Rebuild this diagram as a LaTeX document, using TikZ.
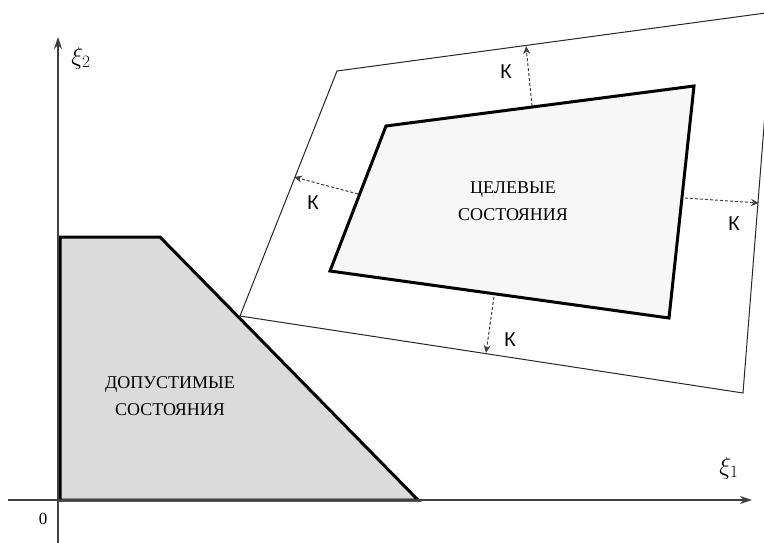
\documentclass[tikz,border=0pt]{standalone}
\usepackage{fontspec}
\setmainfont{Liberation Serif}
\newfontfamily\kfont{Liberation Sans}
\usetikzlibrary{arrows.meta}
\begin{document}
\begin{tikzpicture}[x=1pt,y=-1pt,
  axis/.style={draw=black!75,line width=1.3pt,-{Stealth[length=12pt,width=8pt]}},
  region/.style={draw=black,line width=3pt,line join=miter},
  outer/.style={draw=black!85,line width=1pt},
  margin/.style={draw=black!75,line width=1pt,dash pattern=on 3pt off 2pt,-{Stealth[length=8pt,width=7pt]}},
  lbl/.style={font=\fontsize{18}{20}\selectfont,align=center,inner sep=0pt},
  klbl/.style={font=\kfont\fontsize{20}{20}\selectfont,inner sep=0pt},
  axlbl/.style={font=\fontsize{27}{27}\selectfont,inner sep=0pt}]
\useasboundingbox (0,0) rectangle (764,543);
\begin{scope}
\clip (0,0) rectangle (764,543);
% outer region boundary
\coordinate (o1) at (240,316);
\coordinate (o2) at (337,71);
\coordinate (o3) at (773,12);
\coordinate (o4) at (743,393);
\draw[outer] (o1) -- (o2) -- (o3) -- (o4) -- cycle;
\end{scope}
% admissible region
\coordinate (a1) at (60,500);
\coordinate (a2) at (60,237);
\coordinate (a3) at (160,237);
\coordinate (a4) at (418,500);
\fill[black!14] (a1) -- (a2) -- (a3) -- (a4) -- cycle;
\draw[region] (a1) -- (a2) -- (a3) -- (a4) -- cycle;
% target region
\coordinate (t1) at (386,126);
\coordinate (t2) at (694,86);
\coordinate (t3) at (669,318);
\coordinate (t4) at (330,271);
\filldraw[region,fill=black!3] (t1) -- (t2) -- (t3) -- (t4) -- cycle;
% axes
\coordinate (xs) at (8,500);
\coordinate (xe) at (752,500);
\coordinate (ys) at (58,543);
\coordinate (ye) at (58,37);
\draw[axis] (xs) -- (xe);
\draw[axis] (ys) -- (ye);
\node[axlbl] (xi1) at (729,468) {$\xi_1$};
\node[axlbl] (xi2) at (81,58) {$\xi_2$};
\node[font=\fontsize{17}{17}\selectfont,inner sep=0pt] (zero) at (43,519) {0};
% margins
\coordinate (m1s) at (532,106); \coordinate (m1e) at (526,46);
\coordinate (m2s) at (358,194); \coordinate (m2e) at (294,177);
\coordinate (m3s) at (685,198); \coordinate (m3e) at (759,203);
\coordinate (m4s) at (494,297); \coordinate (m4e) at (486,353);
\draw[margin] (m1s) -- (m1e);
\draw[margin] (m2s) -- (m2e);
\draw[margin] (m3s) -- (m3e);
\draw[margin] (m4s) -- (m4e);
\node[klbl] (k1) at (506,72) {К};
\node[klbl] (k2) at (313,203) {К};
\node[klbl] (k3) at (734,224) {К};
\node[klbl] (k4) at (510,340) {К};
% texts
\node[lbl] (target) at (513,201) {ЦЕЛЕВЫЕ\\[7pt]СОСТОЯНИЯ};
\node[lbl] (adm) at (170,396) {ДОПУСТИМЫЕ\\[7pt]СОСТОЯНИЯ};
\end{tikzpicture}
\end{document}
